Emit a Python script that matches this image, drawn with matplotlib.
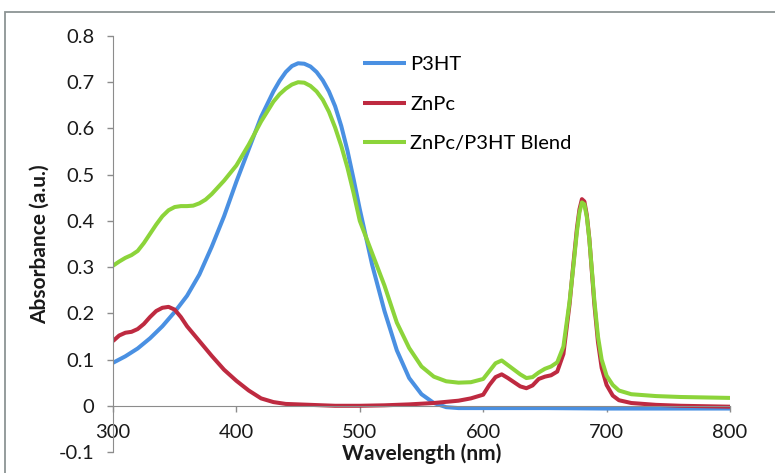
import matplotlib.pyplot as plt
from matplotlib.patches import Rectangle

plt.rcParams['font.family'] = ['Lato', 'DejaVu Sans']

# absorbance spectra
wl_p3ht = [300, 310, 320, 330, 340, 350, 360, 370, 380, 390, 400, 410, 420, 430,
           435, 440, 445, 450, 455, 460, 465, 470, 475, 480, 485, 490, 495, 500,
           510, 520, 530, 540, 550, 560, 570, 580, 600, 650, 700, 750, 800]
abs_p3ht = [0.093, 0.107, 0.124, 0.146, 0.172, 0.203, 0.238, 0.284, 0.344, 0.410,
            0.485, 0.555, 0.625, 0.680, 0.703, 0.722, 0.735, 0.741, 0.740, 0.734,
            0.722, 0.704, 0.680, 0.648, 0.605, 0.552, 0.490, 0.425,
            0.305, 0.205, 0.120, 0.060, 0.025, 0.006, -0.003, -0.005,
            -0.005, -0.005, -0.006, -0.006, -0.006]

wl_znpc = [300, 305, 310, 315, 320, 325, 330, 335, 340, 345, 350, 355, 360, 370,
           380, 390, 400, 410, 420, 430, 440, 460, 480, 500, 520, 540, 560, 580,
           590, 600, 605, 610, 615, 620, 630, 635, 640, 645, 650, 655, 660, 665,
           670, 673, 676, 678, 680, 682, 684, 686, 688, 690, 693, 696, 700, 705,
           710, 720, 740, 760, 780, 800]
abs_znpc = [0.140, 0.152, 0.158, 0.160, 0.166, 0.177, 0.192, 0.205, 0.212, 0.214,
            0.208, 0.192, 0.172, 0.140, 0.108, 0.078, 0.054, 0.033, 0.016, 0.008,
            0.004, 0.002, 0.000, 0.000, 0.001, 0.003, 0.006, 0.011, 0.016, 0.024,
            0.045, 0.062, 0.068, 0.060, 0.042, 0.038, 0.044, 0.058, 0.063, 0.066,
            0.074, 0.112, 0.220, 0.305, 0.385, 0.425, 0.447, 0.442, 0.412, 0.362,
            0.292, 0.222, 0.138, 0.082, 0.045, 0.022, 0.012, 0.006, 0.002, 0.000,
            -0.001, -0.002]

wl_blend = [300, 305, 310, 315, 320, 325, 330, 335, 340, 345, 350, 355, 360, 365,
            370, 375, 380, 390, 400, 410, 420, 430, 435, 440, 445, 450, 455, 460,
            465, 470, 475, 480, 485, 490, 495, 500, 510, 520, 530, 540, 550, 560,
            570, 580, 590, 600, 605, 610, 615, 620, 630, 635, 640, 645, 650, 655,
            660, 665, 670, 673, 676, 678, 680, 682, 684, 686, 688, 690, 693, 696,
            700, 705, 710, 720, 740, 760, 780, 800]
abs_blend = [0.303, 0.312, 0.320, 0.326, 0.335, 0.352, 0.372, 0.392, 0.410, 0.423,
             0.430, 0.432, 0.432, 0.433, 0.438, 0.446, 0.458, 0.487, 0.520, 0.565,
             0.615, 0.658, 0.674, 0.686, 0.695, 0.700, 0.699, 0.692, 0.680, 0.662,
             0.636, 0.602, 0.562, 0.515, 0.460, 0.400, 0.330, 0.260, 0.180, 0.125,
             0.085, 0.063, 0.053, 0.050, 0.051, 0.058, 0.075, 0.092, 0.098, 0.088,
             0.068, 0.060, 0.062, 0.072, 0.080, 0.085, 0.094, 0.128, 0.226, 0.300,
             0.378, 0.418, 0.440, 0.436, 0.408, 0.360, 0.296, 0.230, 0.150, 0.100,
             0.065, 0.045, 0.033, 0.025, 0.021, 0.019, 0.018, 0.017]

x_ticks = [300, 400, 500, 600, 700, 800]
y_ticks = [-0.1, 0, 0.1, 0.2, 0.3, 0.4, 0.5, 0.6, 0.7, 0.8]
y_labels = ['-0.1', '0', '0.1', '0.2', '0.3', '0.4', '0.5', '0.6', '0.7', '0.8']

fig = plt.figure(figsize=(7.75, 4.73), dpi=100)
ax = fig.add_axes([113/775, 21/473, 617/775, 416/473])

lw = 2.9
ax.plot(wl_p3ht, abs_p3ht, color='#4a90e2', lw=lw, label='P3HT',
        solid_capstyle='butt', solid_joinstyle='round')
ax.plot(wl_znpc, abs_znpc, color='#be2a40', lw=lw, label='ZnPc',
        solid_capstyle='butt', solid_joinstyle='round')
ax.plot(wl_blend, abs_blend, color='#8cd43a', lw=lw, label='ZnPc/P3HT Blend',
        solid_capstyle='butt', solid_joinstyle='round')

ax.set_xlim(300, 800)
ax.set_ylim(-0.1, 0.8)

gray = '#8c8c8c'
for s in ['top', 'right']:
    ax.spines[s].set_visible(False)
ax.spines['left'].set_color(gray)
ax.spines['bottom'].set_color(gray)
ax.spines['bottom'].set_position(('data', 0))

ax.set_xticks(x_ticks)
ax.set_xticklabels([str(t) for t in x_ticks])
ax.set_yticks(y_ticks)
ax.set_yticklabels(y_labels)
ax.tick_params(axis='both', direction='out', length=4.3, width=1, color=gray,
               labelsize=14.5, labelcolor='#1a1a1a', pad=9)

ax.set_xlabel('Wavelength (nm)', fontsize=15, fontweight='bold', color='#1a1a1a')
ax.xaxis.label.set_va('center')
ax.xaxis.set_label_coords(0.5, -0.003)
ax.set_ylabel('Absorbance (a.u.)', fontsize=15, fontweight='bold', color='#1a1a1a')
ax.yaxis.label.set_va('center')
ax.yaxis.set_label_coords(-0.118, 0.5)

ax.legend(loc='upper left', bbox_to_anchor=(363/775, 0.881), bbox_transform=fig.transFigure,
          frameon=False, fontsize=14.5, handlelength=2.15, handletextpad=0.2,
          labelspacing=1.1, borderaxespad=0, borderpad=0)

fig.patches.append(Rectangle((5/775, -0.1), 2, 461/473 + 0.1, transform=fig.transFigure,
                             fill=False, ec='#8c9494', lw=1.3))

fig.savefig('out.png', dpi=100)
